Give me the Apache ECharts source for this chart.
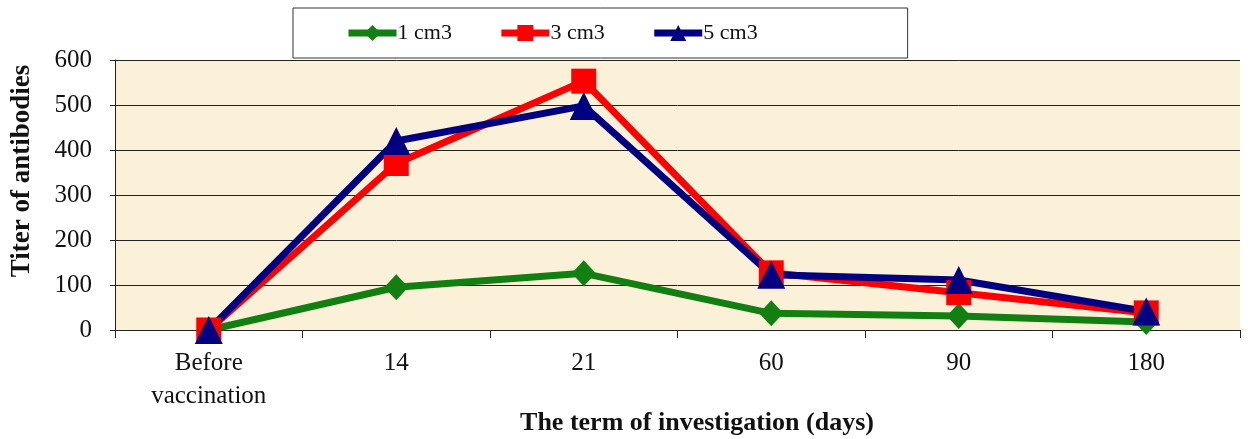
<!DOCTYPE html>
<html>
<head>
<meta charset="utf-8">
<script src="https://cdn.jsdelivr.net/npm/echarts@6/dist/echarts.min.js"></script>
<style>
  html, body { margin: 0; padding: 0; background: #ffffff; }
  #chart { width: 1248px; height: 439px; }
</style>
</head>
<body>
<div id="chart"></div>
<script>
// Sampling terms (days after vaccination)
const categories = ['Before\nvaccination', '14', '21', '60', '90', '180'];

// Antibody titers for each vaccine dose
const dose1 = [0, 95, 126, 37, 31, 18];
const dose3 = [0, 370, 553, 127, 83, 38];
const dose5 = [0, 420, 498, 123, 111, 41];

const seriesNames = ['1 cm3', '3 cm3', '5 cm3'];
const yTicks = { min: 0, max: 600, interval: 100 };

const serif = '"Liberation Serif", "Times New Roman", serif';

const chart = echarts.init(document.getElementById('chart'), null, { renderer: 'canvas' });

function lineSeries(name, data, color, symbol, size) {
  return {
    name: name,
    type: 'line',
    data: data,
    symbol: symbol,
    symbolSize: size,
    showAllSymbol: true,
    lineStyle: { color: color, width: 7 },
    itemStyle: { color: color },
    emphasis: { disabled: true },
    animation: false
  };
}

chart.setOption({
  backgroundColor: '#ffffff',
  animation: false,
  textStyle: { fontFamily: serif },
  legend: {
    left: 293,
    top: 8,
    data: seriesNames,
    backgroundColor: '#ffffff',
    borderColor: '#333333',
    borderWidth: 1,
    borderRadius: 0,
    padding: [14, 150, 14, 52],
    itemGap: 46,
    itemWidth: 48,
    itemHeight: 20,
    lineStyle: { width: 7 },
    textStyle: { fontFamily: serif, fontSize: 22, color: '#111111', padding: [0, 0, 0, -4] }
  },
  grid: {
    left: 115,
    right: 8,
    top: 60,
    bottom: 109,
    show: true,
    backgroundColor: '#fbf0d8',
    borderWidth: 0
  },
  xAxis: {
    type: 'category',
    data: categories,
    boundaryGap: true,
    axisLine: { show: true, lineStyle: { color: '#222222', width: 1 } },
    axisTick: { show: true, alignWithLabel: false, length: 8, lineStyle: { color: '#222222' } },
    axisLabel: {
      fontFamily: serif,
      fontSize: 25,
      color: '#111111',
      lineHeight: 33,
      margin: 17,
      interval: 0
    },
    splitLine: { show: false }
  },
  yAxis: {
    type: 'value',
    min: yTicks.min,
    max: yTicks.max,
    interval: yTicks.interval,
    axisLine: { show: true, lineStyle: { color: '#222222', width: 1 } },
    axisTick: { show: true, length: 5, lineStyle: { color: '#222222' } },
    axisLabel: { fontFamily: serif, fontSize: 25, color: '#111111', margin: 23 },
    splitLine: { show: true, lineStyle: { color: '#222222', width: 1 } }
  },
  graphic: [
    {
      type: 'text',
      x: 22,
      y: 171,
      rotation: Math.PI / 2,
      style: {
        text: 'Titer of antibodies',
        fontFamily: serif,
        fontSize: 27,
        fontWeight: 'bold',
        fill: '#111111',
        align: 'center',
        verticalAlign: 'middle'
      }
    },
    {
      type: 'text',
      x: 697,
      y: 423,
      style: {
        text: 'The term of investigation (days)',
        fontFamily: serif,
        fontSize: 26,
        fontWeight: 'bold',
        fill: '#111111',
        align: 'center',
        verticalAlign: 'middle'
      }
    }
  ],
  series: [
    lineSeries(seriesNames[0], dose1, '#118011', 'diamond', [24, 26]),
    lineSeries(seriesNames[1], dose3, '#ff0000', 'rect', 25),
    lineSeries(seriesNames[2], dose5, '#000080', 'triangle', 28)
  ]
});
</script>
</body>
</html>
